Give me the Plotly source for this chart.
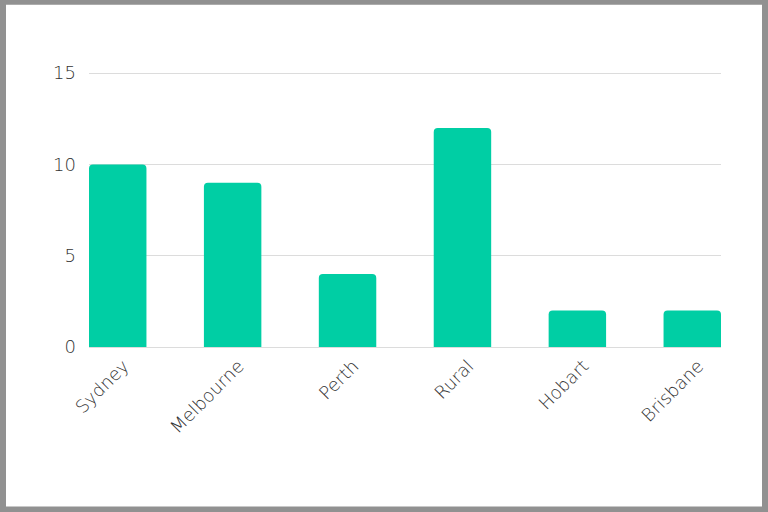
import plotly.graph_objects as go

categories = ["Sydney", "Melbourne", "Perth", "Rural", "Hobart", "Brisbane"]
values = [10, 9, 4, 12, 2, 2]
y_ticks = [0, 5, 10, 15]

W, H = 768, 512
L, R, T, B = 89, 721, 73, 347

def px_x(p):
    return (p - L) / (R - L)

def px_y(p):
    return (B - p) / (B - T)

fig = go.Figure(go.Bar(
    x=categories, y=values,
    marker=dict(color="#00CEA4", cornerradius=4, line=dict(width=0)),
    width=0.5,
))

tick_font = dict(family="DejaVu Sans", size=18, color="#333333", weight=200)

fig.update_layout(
    width=W, height=H,
    margin=dict(l=L, r=W - R, t=T - 1, b=H - B),
    paper_bgcolor="white", plot_bgcolor="white",
    showlegend=False,
    font=dict(family="DejaVu Sans", color="#333333"),
    xaxis=dict(
        range=[-0.25, 5.25], tickangle=-45, showgrid=False,
        tickfont=tick_font, ticks="", showline=False,
        zeroline=False, ticklabelshift=6, ticklabelstandoff=4,
    ),
    yaxis=dict(
        range=[0, 15.06], tickvals=y_ticks, showgrid=True, gridcolor="#dcdcdc",
        gridwidth=1, zeroline=True, zerolinecolor="#dcdcdc", zerolinewidth=1,
        tickfont=tick_font, ticks="", showline=False,
        ticklabelstandoff=12,
    ),
    shapes=[dict(
        type="rect", xref="paper", yref="paper",
        x0=px_x(3), x1=px_x(765), y0=px_y(509), y1=px_y(3),
        line=dict(color="#919191", width=6), fillcolor="rgba(0,0,0,0)",
        layer="above",
    )],
)

fig.write_html(
    "out.html",
    config={"displayModeBar": False},
    post_script="document.body.style.margin='0';document.body.style.overflow='hidden';",
)
